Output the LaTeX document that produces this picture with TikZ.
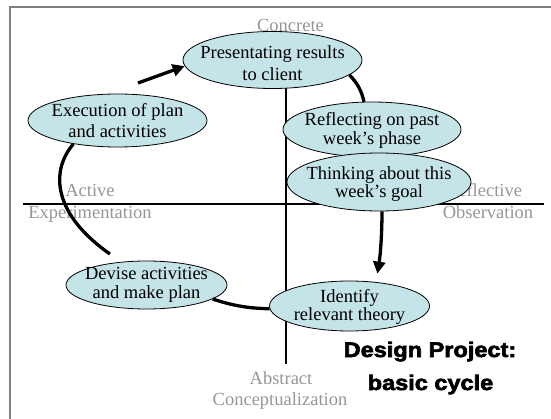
\documentclass[tikz,border=0pt]{standalone}
\usepackage{fontspec}
\setmainfont{Liberation Serif}
\newfontfamily\dpfont{Liberation Sans}[FakeBold=3,FakeStretch=1.12]
\usetikzlibrary{shapes.geometric,arrows.meta}
\definecolor{ellfill}{RGB}{197,228,232}
\definecolor{axgray}{RGB}{150,150,150}
\definecolor{framegray}{RGB}{128,128,128}
\begin{document}
\begin{tikzpicture}[x=1pt,y=-1pt,
  ell/.style={ellipse,draw=black,line width=0.8pt,fill=ellfill,inner sep=0pt},
  etxt/.style={align=center,inner sep=0pt},
  axislbl/.style={text=axgray,inner sep=0pt,anchor=base,font=\fontsize{18.5}{22}\selectfont},
  dptxt/.style={inner sep=0pt,anchor=base,font=\dpfont\bfseries\fontsize{21}{24}\selectfont},
  conn/.style={line width=3.3pt},
  arr/.style={conn,-{Triangle[length=12pt,width=12pt]}},
  axisline/.style={line width=2pt}]
\useasboundingbox (0,0) rectangle (551,419);
% frame
\draw[framegray,line width=2pt] (9.5,419) -- (9.5,7.5) -- (551,7.5);
% axis labels
\node[axislbl] (lconc) at (290.5,32) {Concrete};
\node[axislbl] (lact) at (90,197) {Active};
\node[axislbl] (lexp) at (90,219) {Experimentation};
\node[axislbl] (lrefl) at (484,197) {Reflective};
\node[axislbl] (lobs) at (488,219) {Observation};
\node[axislbl] (labs) at (281,384) {Abstract};
\node[axislbl] (lcon) at (280,405.5) {Conceptualization};
% axes
\coordinate (hl) at (23,204);
\coordinate (hr) at (544,204);
\coordinate (vt) at (286,87);
\coordinate (vb) at (286,364);
\draw[axisline] (hl) -- (hr);
\draw[axisline] (vt) -- (vb);
% ellipses
\node[ell,minimum width=179pt,minimum height=57pt] (pres) at (272.5,60) {};
\node[ell,minimum width=179pt,minimum height=53pt] (exe) at (117.5,120.5) {};
\node[ell,minimum width=178pt,minimum height=55pt] (refl) at (372,129.5) {};
\node[ell,minimum width=184pt,minimum height=58pt] (think) at (379,182) {};
\node[ell,minimum width=161pt,minimum height=48pt] (dev) at (146.5,285) {};
\node[ell,minimum width=160pt,minimum height=50pt] (ident) at (349.5,306) {};
% texts
\begin{scope}[font=\fontsize{18.5}{22}\selectfont]
\node[etxt] (presT) at ([yshift=-3pt]pres.center) {Presentating results\\to client};
\node[etxt,font=\fontsize{18.5}{21}\selectfont] (exeT) at (exe.center) {Execution of plan\\and activities};
\node[etxt,font=\fontsize{18.5}{18.5}\selectfont] (reflT) at ([yshift=-1pt]refl.center) {Reflecting on past\\week's phase};
\node[etxt,font=\fontsize{18.5}{18.5}\selectfont] (thinkT) at ([yshift=-2pt]think.center) {Thinking about this\\week's goal};
\node[etxt,font=\fontsize{18.5}{19}\selectfont] (devT) at (dev.center) {Devise activities\\and make plan};
\node[etxt,font=\fontsize{18.5}{17.5}\selectfont] (identT) at ([yshift=-1pt]ident.center) {Identify\\relevant theory};
\end{scope}
% connectors
\coordinate (devout) at ([shift={(-36.5,-31)}]dev.center);
\coordinate (exeout) at ([shift={(20.5,-37.5)}]exe.center);
\draw[conn] (devout) .. controls +(-56,-39) and +(-24,28) .. (exe.208);
\draw[arr] (exeout) -- (pres.184);
\draw[conn] (pres.349) to[bend left=15] (refl.106);
\draw[arr,shorten >=8.5pt] (think.276) to[bend left=4] (ident.42);
\draw[conn] (dev.348) to[bend right=8] (ident.182);
% title
\node[dptxt] (dp1) at (430,357) {Design Project:};
\node[dptxt] (dp2) at (430.5,390) {basic cycle};
\end{tikzpicture}
\end{document}
